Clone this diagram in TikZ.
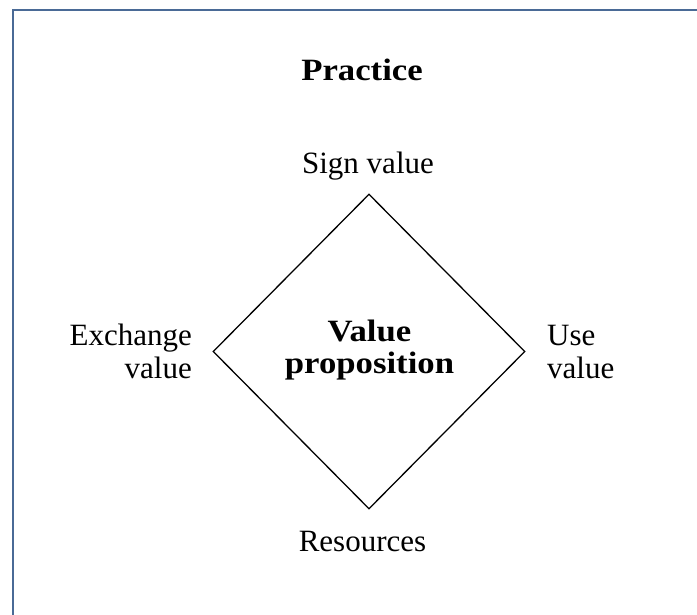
\documentclass[tikz,border=0pt]{standalone}
\usepackage{fontspec}
\setmainfont{Liberation Serif}[BoldFeatures={FakeStretch=1.12}]
\usetikzlibrary{shapes.geometric}
\definecolor{framecol}{RGB}{74,106,150}
\tikzset{
  frameline/.style={draw=framecol, line width=2.4pt},
  lbl/.style={inner sep=0pt, font=\fontsize{31}{33.5}\selectfont},
  boldlbl/.style={lbl, font=\fontsize{31}{32.5}\selectfont\bfseries},
  vp/.style={diamond, draw=black, line width=1.3pt, minimum width=312pt,
    minimum height=315pt, inner sep=0pt}
}
\begin{document}
\begin{tikzpicture}[x=1pt,y=-1pt]
  \useasboundingbox (0,0) rectangle (697,614);
  \clip (0,0) rectangle (697,614);
  % outer frame: only its top and left sides fall inside the page
  \coordinate (fbl) at (13,640);
  \coordinate (ftl) at (13,10);
  \coordinate (ftr) at (720,10);
  \draw[frameline] (fbl) -- (ftl) -- (ftr);

  \node[lbl, font=\fontsize{31}{33.5}\selectfont\bfseries, anchor=base] (practice) at (362,80) {Practice};

  \node[vp] (prop) at (369,351.5) {};
  % multi-line labels: the base anchor sits on the last line
  \node[boldlbl, align=center, anchor=base] (proptext) at (369.5,373.5) {Value\\proposition};

  \node[lbl, anchor=base] (sign) at (368,173) {Sign value};
  \node[lbl, anchor=base] (res) at (362.5,551) {Resources};
  \node[lbl, align=right, anchor=base east] (exch) at (192,378.5) {Exchange\\value};
  \node[lbl, align=left, anchor=base west] (use) at (547,378.5) {Use\\value};
\end{tikzpicture}
\end{document}
